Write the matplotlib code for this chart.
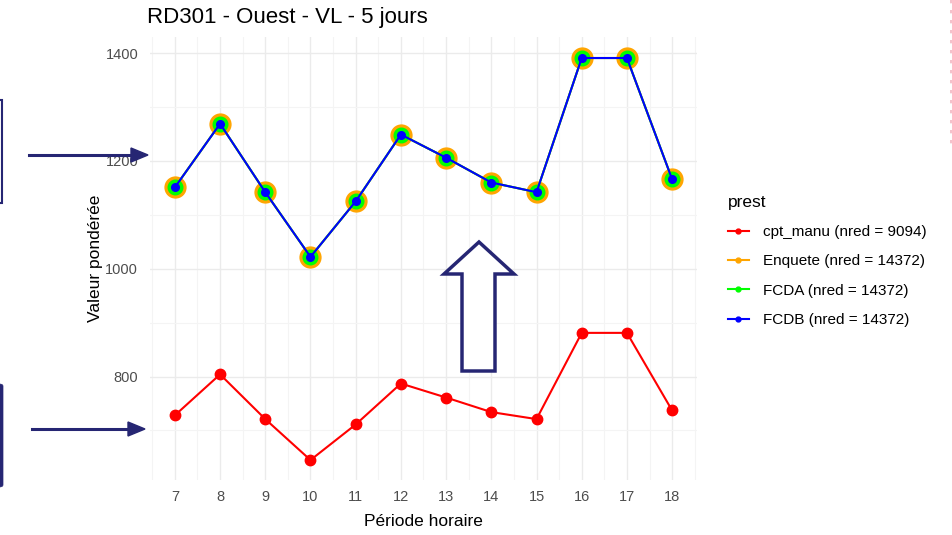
import matplotlib.pyplot as plt
from matplotlib.patches import Polygon, Rectangle, FancyBboxPatch
from matplotlib.lines import Line2D
import numpy as np

plt.rcParams['font.family'] = ['Liberation Sans', 'DejaVu Sans']

hours = [7, 8, 9, 10, 11, 12, 13, 14, 15, 16, 17, 18]
cpt_manu = [728, 804, 721, 645, 711, 787, 761, 734, 721, 881, 881, 737]
enquete = [1151, 1269, 1142, 1022, 1125, 1249, 1206, 1160, 1142, 1391, 1391, 1166]
fcda = [1151, 1269, 1142, 1022, 1125, 1249, 1206, 1160, 1142, 1391, 1391, 1166]
fcdb = [1151, 1269, 1142, 1022, 1125, 1249, 1206, 1160, 1142, 1391, 1391, 1166]
labels = ["cpt_manu (nred = 9094)", "Enquete (nred = 14372)",
          "FCDA (nred = 14372)", "FCDB (nred = 14372)"]
colors = ["#FF0000", "#FFA500", "#00FF00", "#0000FF"]

W, H = 953, 535
fig = plt.figure(figsize=(W / 100, H / 100), dpi=100)
ax = fig.add_axes([150 / W, 55 / H, 547 / W, 443 / H])

# grid like theme_minimal
ax.set_xlim(6.45, 18.55)
ax.set_ylim(608, 1430)
ax.set_xticks(hours)
ax.set_xticks(np.arange(6.5, 18.6, 1.0), minor=True)
ax.set_yticks([800, 1000, 1200, 1400])
ax.set_yticks([700, 900, 1100, 1300], minor=True)
ax.grid(which='major', color='#EBEBEB', lw=1.0)
ax.grid(which='minor', color='#F4F4F4', lw=0.8)
ax.set_axisbelow(True)
for s in ax.spines.values():
    s.set_visible(False)
ax.tick_params(which='both', length=0, labelsize=10.5, labelcolor='#4D4D4D')
ax.tick_params(axis='y', pad=8.5)
ax.tick_params(axis='x', pad=7.5)

ax.plot(hours, cpt_manu, color=colors[0], lw=1.5, marker='o', ms=7.5, zorder=3)
ax.plot(hours, enquete, color=colors[1], lw=1.5, marker='o', ms=15, zorder=3)
ax.plot(hours, fcda, color=colors[2], lw=1.5, marker='o', ms=10.5, zorder=4)
ax.plot(hours, fcdb, color=colors[3], lw=1.5, marker='o', ms=5.5, zorder=5)

ax.set_xlabel("Période horaire", fontsize=12.5, labelpad=7)
ax.set_ylabel("Valeur pondérée", fontsize=12.5, labelpad=2)
fig.text(147 / W, 1 - 18 / H, "RD301 - Ouest - VL - 5 jours", fontsize=16, va='center', ha='left')

handles = [Line2D([], [], color=c, lw=1.5, marker='o', ms=3.5) for c in colors]
leg = fig.legend(handles, labels, title="prest", loc='upper left',
                 bbox_to_anchor=(714 / W, 1 - 181 / H), frameon=False,
                 fontsize=11, title_fontsize=12.5, handlelength=1.4,
                 handletextpad=0.9, labelspacing=1.0, alignment='left')

# annotation shapes, in figure pixels
tr = fig.transFigure
def px(x, y):
    return (x / W, 1 - y / H)

navy = '#262673'
fig.add_artist(Rectangle(px(-3, 203), 4.5 / W, 103 / H, transform=tr,
                         facecolor='none', edgecolor=navy, lw=1.5))
fig.add_artist(FancyBboxPatch(px(-4, 487), 7 / W, 103 / H, transform=tr,
                              boxstyle='round,pad=0,rounding_size=0.004',
                              facecolor=navy, edgecolor=navy, lw=0.5))
for (x0, x1, y) in [(29, 148, 155), (32, 145, 429)]:
    fig.add_artist(Line2D([x0 / W, (x1 - 15) / W], [1 - y / H] * 2, transform=tr,
                          color=navy, lw=2.2))
    fig.add_artist(Polygon([px(x1 - 17, y - 7), px(x1, y), px(x1 - 17, y + 7)],
                           closed=True, transform=tr, facecolor=navy, edgecolor=navy))

big = [px(479, 242), px(514, 274), px(495, 274), px(495, 371),
       px(462, 371), px(462, 274), px(444, 274)]
fig.add_artist(Polygon(big, closed=True, transform=tr, facecolor='white',
                       edgecolor=navy, lw=2.5, zorder=10))

fig.add_artist(Line2D([951 / W] * 2, [1, 1 - 145 / H], transform=tr,
                      color='#F4B6C2', lw=1.2, ls=(0, (2, 4))))

fig.savefig("out.png", dpi=100)
